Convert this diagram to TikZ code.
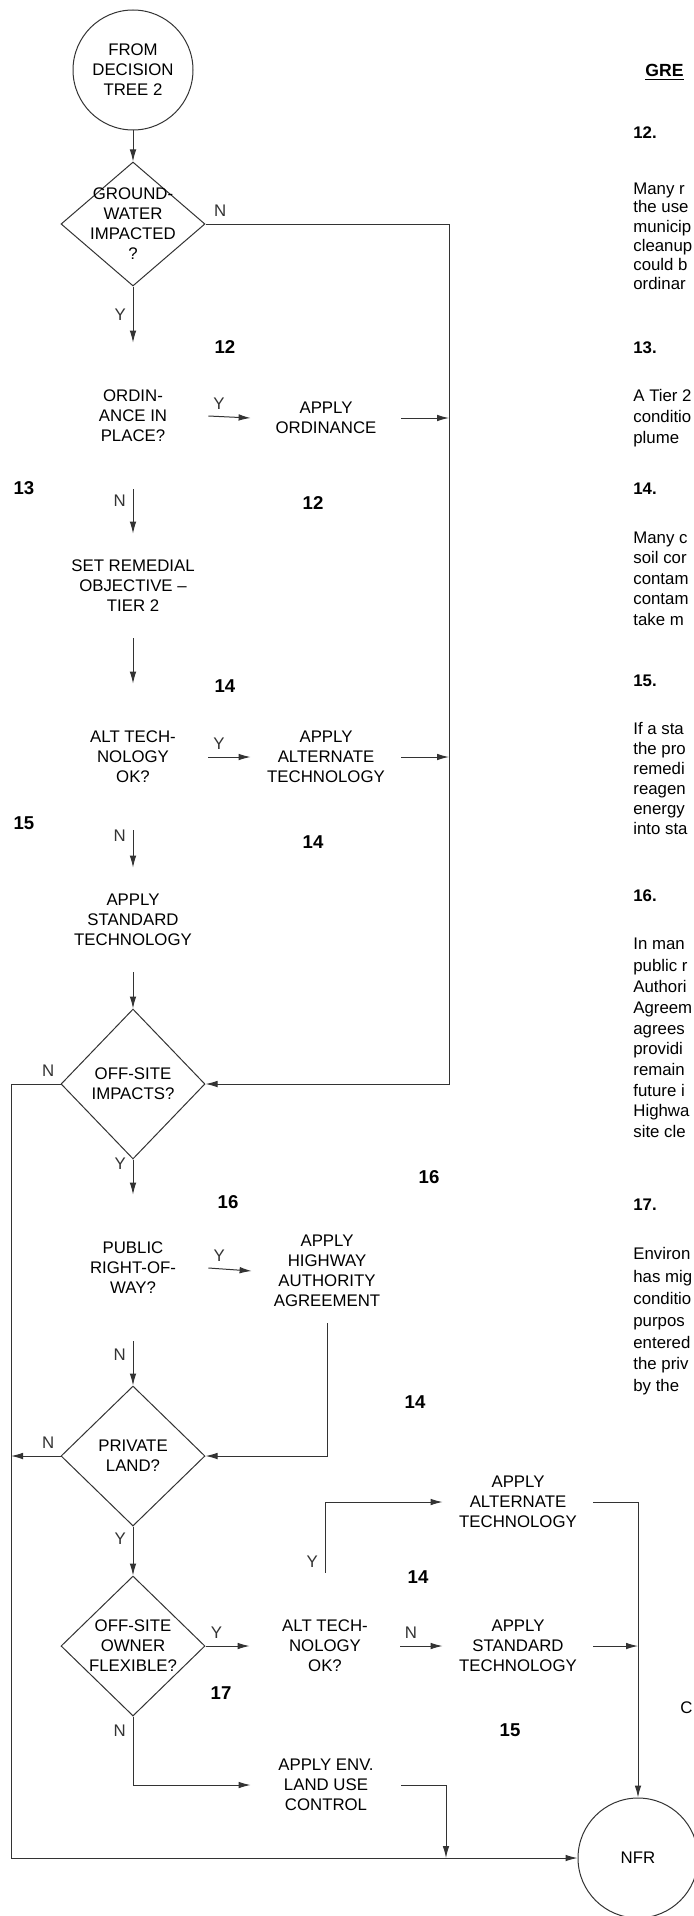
\documentclass[tikz,border=0pt]{standalone}
\usepackage{fontspec}
\setmainfont{Liberation Sans}
\usetikzlibrary{arrows.meta,calc,positioning,shapes.geometric}

\begin{document}
\begin{tikzpicture}[
    x=.5pt,y=-.5pt,
    font=\fontsize{8.4}{10}\selectfont,
    dia/.style={diamond,draw=black!80,line width=.5pt,minimum width=72pt,minimum height=70pt,inner sep=0pt},
    term/.style={circle,draw=black!80,line width=.5pt,minimum size=60pt,inner sep=0pt,align=center},
    box/.style={align=center,minimum width=75pt,minimum height=73pt,inner sep=0pt},
    sbox/.style={box,minimum height=52pt},
    e/.style={-{Latex[length=6pt,width=3.3pt]},line width=.5pt,black!80},
    num/.style={font=\fontsize{9.3}{11}\selectfont\bfseries},
    pg/.style={anchor=base west,inner sep=0pt}
  ]
    \fill[white] (0,0) rectangle (693,1916);
    \useasboundingbox (0,0) rectangle (693,1916);
    % left column
    \node[term] (start) at (133,70) {FROM\\DECISION\\TREE 2};
    \node[dia,minimum height=62pt,label={[align=center]center:{GROUND-\\WATER\\IMPACTED\\?}}] (gw) at (133,224) {};
    \node[box] (ord) at (133,416) {ORDIN-\\ANCE IN\\PLACE?};
    \node[box] (applyord) at (326,418) {APPLY\\ORDINANCE};
    \node[sbox] (setro) at (133,586) {SET REMEDIAL\\OBJECTIVE --\\TIER 2};
    \node[box] (alt) at (133,757) {ALT TECH-\\NOLOGY\\OK?};
    \node[box] (applyalt) at (326,757) {APPLY\\ALTERNATE\\TECHNOLOGY};
    \node[sbox] (std) at (133,920) {APPLY\\STANDARD\\TECHNOLOGY};
    \node[dia,minimum height=75pt,label={[align=center]center:{OFF-SITE\\IMPACTS?}}] (offsite) at (133,1084) {};
    \node[box] (pub) at (133,1268) {PUBLIC\\RIGHT-OF-\\WAY?};
    \node[sbox] (hwy) at (327,1271) {APPLY\\HIGHWAY\\AUTHORITY\\AGREEMENT};
    \node[dia,label={[align=center]center:{PRIVATE\\LAND?}}] (priv) at (133,1456) {};
    \node[dia,label={[align=center]center:{OFF-SITE\\OWNER\\FLEXIBLE?}}] (owner) at (133,1646) {};
    \node[box] (alt2) at (325,1646) {ALT TECH-\\NOLOGY\\OK?};
    \node[box] (std2) at (518,1646) {APPLY\\STANDARD\\TECHNOLOGY};
    \node[box] (applyalt2) at (518,1502) {APPLY\\ALTERNATE\\TECHNOLOGY};
    \node[box] (env) at (326,1785) {APPLY ENV.\\LAND USE\\CONTROL};
    \node[term] (nfr) at (638,1858) {NFR};
    \coordinate (rx) at (449,0);
    \coordinate (lx) at (11,0);
    \coordinate (envdrop) at (446,1858);

    % note numbers
    \foreach \nm/\x/\y/\t in {a/225/347/12,b/24/488/13,c/313/503/12,d/225/686/14,e/24/823/15,f/313/842/14,
        g/429/1177/16,h/228/1202/16,i/415/1402/14,j/418/1577/14,k/221/1693/17,l/510/1730/15}
      {\node[num] (n\nm) at (\x,\y) {\t};}

    % connectors
    \draw[e] (start) -- (gw);
    \draw[e] (gw.south) -- node[left]{Y} (ord.north);
    \draw[e] (gw.east) -- node[pos=.06,above]{N} (gw.east -| rx) |- (offsite.east);
    \draw[e] (ord.east) -- node[pos=.25,above]{Y} (applyord.west);
    \draw[e] (applyord.east) -- (applyord.east -| rx);
    \draw[e] (ord.south) -- node[pos=.25,left]{N} (setro.north);
    \draw[e] (setro.south) -- (alt.north);
    \draw[e] (alt.east) -- node[pos=.25,above]{Y} (applyalt.west);
    \draw[e] (applyalt.east) -- (applyalt.east -| rx);
    \draw[e] (alt.south) -- node[pos=.15,left]{N} (std.north);
    \draw[e] (std.south) -- (offsite.north);
    \draw[e] (offsite.west) -- node[pos=.25,above]{N} (offsite.west -| lx) |- (nfr.west);
    \draw[e] (offsite.south) -- node[pos=.12,left]{Y} (pub.north);
    \draw[e] (pub.east) -- node[pos=.25,above]{Y} (hwy.west);
    \draw[e] (hwy.south) |- (priv.east);
    \draw[e] (pub.south) -- node[pos=.3,left]{N} (priv.north);
    \draw[e] (priv.west) -- node[pos=.25,above]{N} (priv.west -| lx);
    \draw[e] (priv.south) -- node[pos=.25,left]{Y} (owner.north);
    \draw[e] (owner.east) -- node[pos=.25,above]{Y} (alt2.west);
    \draw[e] (owner.south) |- node[pos=.1,left]{N} (env.west);
    \draw[e] (alt2.north) |- node[pos=.08,left]{Y} (applyalt2.west);
    \draw[e] (alt2.east) -- node[pos=.25,above]{N} (std2.west);
    \draw[e] (applyalt2.east) -| (nfr.north);
    \draw[e] (std2.east) -- (std2.east -| nfr.north);
    \draw[e] (env.east) -| (envdrop);

    % page text at the right edge
    \node[pg,font=\fontsize{8.8}{10}\selectfont\bfseries] (head) at (645,76) {\underline{GRE}};
    \node[pg] (frag) at (680,1713) {C};
    \foreach \y/\t in {133/12.,347/13.,488/14.,680/15.,895/16.,1204/17.}
      {\node[pg,font=\fontsize{8.4}{10}\selectfont\bfseries] (h\y) at (633,\y+6) {\t};}
    \foreach \y/\t in {188/Many r,207/the use,226/municip,245/cleanup,264/could b,283/ordinar,
        395/A Tier 2,416/conditio,437/plume,
        537/Many c,557/soil cor,578/contam,598/contam,619/take m,
        728/If a sta,748/the pro,768/remedi,788/reagen,808/energy,828/into sta,
        943/In man,965/public r,986/Authori,1007/Agreem,1028/agrees,1048/providi,1069/remain,1090/future i,1110/Highwa,1131/site cle,
        1253/Environ,1276/has mig,1298/conditio,1320/purpos,1342/entered,1363/the priv,1385/by the}
      {\node[pg] (t\y) at (633,\y+6) {\t};}
  \end{tikzpicture}
\end{document}
